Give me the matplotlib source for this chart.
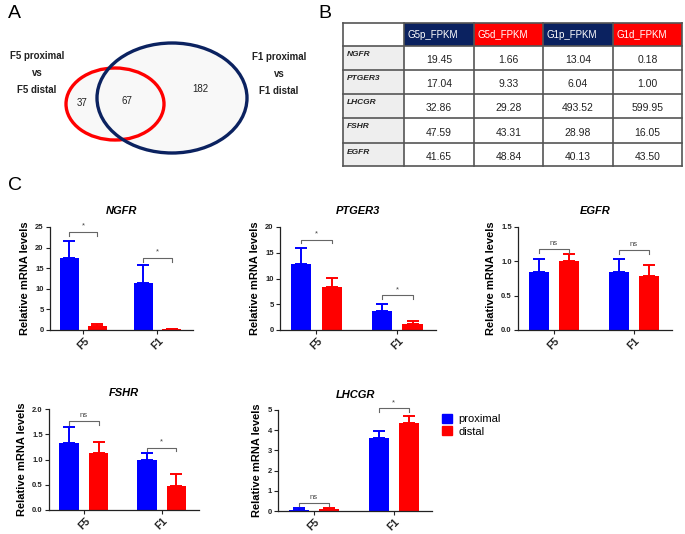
import numpy as np
import matplotlib
matplotlib.use("Agg")
import matplotlib.pyplot as plt
from matplotlib.patches import Ellipse, Rectangle, Patch

plt.rcParams['font.family'] = ['Liberation Sans', 'DejaVu Sans']

# --- data -------------------------------------------------------------
venn_counts = [37, 67, 182]          # F5 only, both, F1 only
venn_left = "F5 proximal\nvs\nF5 distal"
venn_right = "F1 proximal\nvs\nF1 distal"

table_cols = ["G5p_FPKM", "G5d_FPKM", "G1p_FPKM", "G1d_FPKM"]
table_genes = ["NGFR", "PTGER3", "LHCGR", "FSHR", "EGFR"]
table_vals = [["19.45", "1.66", "13.04", "0.18"],
              ["17.04", "9.33", "6.04", "1.00"],
              ["32.86", "29.28", "493.52", "599.95"],
              ["47.59", "43.31", "28.98", "16.05"],
              ["41.65", "48.84", "40.13", "43.50"]]

groups = ["F5", "F1"]
genes = ["NGFR", "PTGER3", "EGFR", "FSHR", "LHCGR"]
prox_mean = {"NGFR": [17.5, 11.4], "PTGER3": [12.8, 3.7], "EGFR": [0.85, 0.84],
             "FSHR": [1.33, 1.0], "LHCGR": [0.07, 3.6]}
prox_err = {"NGFR": [4.2, 4.4], "PTGER3": [3.1, 1.4], "EGFR": [0.19, 0.19],
            "FSHR": [0.31, 0.12], "LHCGR": [0.08, 0.35]}
dist_mean = {"NGFR": [1.0, 0.2], "PTGER3": [8.3, 1.1], "EGFR": [1.0, 0.79],
             "FSHR": [1.12, 0.48], "LHCGR": [0.1, 4.35]}
dist_err = {"NGFR": [0.5, 0.15], "PTGER3": [1.8, 0.7], "EGFR": [0.1, 0.16],
            "FSHR": [0.23, 0.24], "LHCGR": [0.05, 0.35]}
sig = {"NGFR": ["*", "*"], "PTGER3": ["*", "*"], "EGFR": ["ns", "ns"],
       "FSHR": ["ns", "*"], "LHCGR": ["ns", "*"]}
sig_y = {"NGFR": [23.8, 17.5], "PTGER3": [17.5, 6.8], "EGFR": [1.18, 1.16],
         "FSHR": [1.76, 1.23], "LHCGR": [0.4, 5.1]}
ymax = {"NGFR": 25, "PTGER3": 20, "EGFR": 1.5, "FSHR": 2.0, "LHCGR": 5}
ystep = {"NGFR": 5, "PTGER3": 5, "EGFR": 0.5, "FSHR": 0.5, "LHCGR": 1}

BLUE = "#0000ff"
RED = "#ff0000"
NAVY = "#0b2260"

W, H = 685, 534
fig = plt.figure(figsize=(W / 100, H / 100), dpi=100)

# overlay in pixel coordinates for panels A and B
ov = fig.add_axes([0, 0, 1, 1])
ov.set_xlim(0, W)
ov.set_ylim(H, 0)
ov.axis("off")

for lab, (x, y) in zip("ABC", [(8, 13), (318, 13), (8, 186)]):
    ov.text(x, y, lab, fontsize=14, ha="left", va="center")

# --- A: venn ----------------------------------------------------------
ov.add_patch(Ellipse((172, 98), 150, 110, facecolor="#f8f8f8", edgecolor="none", zorder=1))
ov.add_patch(Ellipse((115, 104), 98, 72, facecolor="#f8f8f8", edgecolor="none", zorder=1))
ov.add_patch(Ellipse((115, 104), 98, 72, facecolor="none", edgecolor=RED, lw=2.4, zorder=3))
ov.add_patch(Ellipse((172, 98), 150, 110, facecolor="none", edgecolor=NAVY, lw=2.4, zorder=3))
for n, (x, y) in zip(venn_counts, [(82, 103), (127, 101), (200, 89)]):
    ov.text(x, y, str(n), fontsize=7, ha="center", va="center", color="#222222", zorder=4)
ov.text(37, 73, venn_left, fontsize=7, fontweight="bold", ha="center", va="center",
        linespacing=1.9, color="#222222")
ov.text(279, 74, venn_right, fontsize=7, fontweight="bold", ha="center", va="center",
        linespacing=1.9, color="#222222")

# --- B: table ---------------------------------------------------------
col_x = [343, 404, 474, 543, 613, 682]
row_y = [23, 46, 70, 94, 118, 143, 166]
head_colors = [NAVY, RED, NAVY, RED]
ov.add_patch(Rectangle((col_x[0], row_y[1]), col_x[1] - col_x[0], row_y[-1] - row_y[1],
                       facecolor="#eeeeee", edgecolor="none", zorder=1))
for j, c in enumerate(table_cols):
    ov.add_patch(Rectangle((col_x[j + 1], row_y[0]), col_x[j + 2] - col_x[j + 1],
                           row_y[1] - row_y[0], facecolor=head_colors[j],
                           edgecolor="none", zorder=1))
    ov.text(col_x[j + 1] + 4, (row_y[0] + row_y[1]) / 2, c, color="white",
            fontsize=7, ha="left", va="center", zorder=2)
for i, g in enumerate(table_genes):
    ov.text(col_x[0] + 4, row_y[i + 1] + 9, g, fontsize=6, fontweight="bold",
            fontstyle="italic", ha="left", va="center", color="#222222", zorder=2)
    for j, v in enumerate(table_vals[i]):
        ov.text((col_x[j + 1] + col_x[j + 2]) / 2, (row_y[i + 1] + row_y[i + 2]) / 2 + 2, v,
                fontsize=7.5, ha="center", va="center", color="#222222", zorder=2)
for y in row_y:
    ov.plot([col_x[0], col_x[-1]], [y, y], color="#555555", lw=1.2, zorder=3)
for x in col_x:
    ov.plot([x, x], [row_y[0], row_y[-1]], color="#555555", lw=1.2, zorder=3)

# --- C: bar charts ----------------------------------------------------
axes_px = {"NGFR": (50, 193, 227, 330), "PTGER3": (280, 436, 227, 330),
           "EGFR": (518, 672, 227, 330), "FSHR": (49, 199, 409, 510),
           "LHCGR": (278, 432, 410, 511)}
x = np.arange(len(groups))
bw = 0.25
off = 0.19
for g in genes:
    x0, x1, y0, y1 = axes_px[g]
    ax = fig.add_axes([x0 / W, 1 - y1 / H, (x1 - x0) / W, (y1 - y0) / H])
    for pos, m, e, col in [(x - off, prox_mean[g], prox_err[g], BLUE),
                           (x + off, dist_mean[g], dist_err[g], RED)]:
        ax.bar(pos, m, width=bw, color=col, zorder=2)
        ax.errorbar(pos, m, yerr=[np.zeros(len(e)), e], fmt="none", ecolor=col,
                    elinewidth=1.4, capsize=4, capthick=1.4, zorder=1)
    for k in range(len(groups)):
        yb = sig_y[g][k]
        tick = ymax[g] * 0.035
        ax.plot([x[k] - off, x[k] - off, x[k] + off, x[k] + off],
                [yb - tick, yb, yb, yb - tick], color="#666666", lw=0.8, clip_on=False)
        ax.text(x[k], yb + ymax[g] * 0.02, sig[g][k], fontsize=5.5, color="#444444",
                ha="center", va="bottom")
    ax.set_xlim(-0.45, 1.48)
    ax.set_ylim(0, ymax[g])
    ax.set_yticks(np.arange(0, ymax[g] + ystep[g] / 2, ystep[g]))
    if ystep[g] < 1:
        ax.set_yticklabels([f"{v:.1f}" for v in ax.get_yticks()])
    ax.set_xticks(x)
    ax.set_xticklabels(groups, rotation=45, fontsize=7.5, fontweight="bold")
    for lbl in ax.get_yticklabels():
        lbl.set_fontsize(5.5)
        lbl.set_fontweight("bold")
    ax.tick_params(axis="both", length=3, width=0.8, pad=1.5, colors="#222222")
    ax.set_ylabel("Relative mRNA levels", fontsize=8, fontweight="bold", labelpad=4)
    ax.set_title(g, fontsize=8, fontweight="bold", fontstyle="italic", pad=9)
    for s in ["top", "right"]:
        ax.spines[s].set_visible(False)
    for s in ["left", "bottom"]:
        ax.spines[s].set_linewidth(0.9)
        ax.spines[s].set_color("#222222")

fig.legend(handles=[Patch(color=BLUE), Patch(color=RED)], labels=["proximal", "distal"],
           loc="upper left", bbox_to_anchor=(442 / W, 1 - 414 / H), frameon=False,
           fontsize=8, handlelength=0.9, handleheight=0.9, handletextpad=0.6,
           labelspacing=0.15, borderpad=0, borderaxespad=0)

fig.savefig("out.png", dpi=100)
